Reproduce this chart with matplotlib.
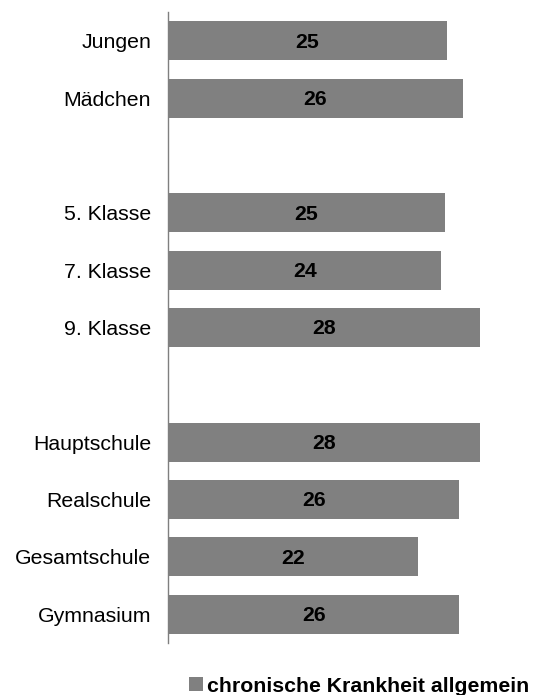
import matplotlib
matplotlib.use("Agg")
import matplotlib.pyplot as plt
from matplotlib.patches import Patch

plt.rcParams["font.family"] = ["Liberation Sans", "DejaVu Sans"]

# Share of pupils with a chronic illness (%), grouped by sex, grade and school type
categories = ["Jungen", "Mädchen",
              "5. Klasse", "7. Klasse", "9. Klasse",
              "Hauptschule", "Realschule", "Gesamtschule", "Gymnasium"]
values = [24.8, 26.2, 24.6, 24.3, 27.7, 27.7, 25.9, 22.2, 25.9]
# row slots (top to bottom); slots 2 and 6 are empty spacers between groups
rows = [0, 1, 3, 4, 5, 7, 8, 9, 10]
series_name = "chronische Krankheit allgemein"

bar_color = "#808080"
fs = 15.3

fig = plt.figure(figsize=(5.37, 6.95), dpi=100)
ax = fig.add_axes([168 / 537, 1 - 643 / 695, 360 / 537, 631 / 695])

ax.barh(rows, values, height=0.68, color=bar_color, zorder=2)
# value labels centred inside each bar, baseline set so the digits sit mid-bar
for r, v in zip(rows, values):
    ax.text(v / 2, r + 0.12, f"{v:.0f}", ha="center", va="baseline",
            fontsize=fs, fontweight="bold", color="black", zorder=3)

ax.set_xlim(0, 32)
ax.set_ylim(10.5, -0.5)
ax.set_yticks(rows)
ax.set_yticklabels(categories, fontsize=fs)
ax.tick_params(axis="y", length=0, pad=12.2)
ax.set_xticks([])

for side in ("top", "right", "bottom"):
    ax.spines[side].set_visible(False)
ax.spines["left"].set_color("#7f7f7f")
ax.spines["left"].set_linewidth(1.0)

handle = Patch(facecolor=bar_color, edgecolor="none")
fig.legend([handle], [series_name], loc="center left",
           bbox_to_anchor=(189 / 537, 1 - 686 / 695),
           frameon=False, borderpad=0, borderaxespad=0,
           handlelength=0.67, handleheight=0.67, handletextpad=0.2,
           prop={"size": fs, "weight": "bold"})

fig.savefig("out.png", dpi=100)
